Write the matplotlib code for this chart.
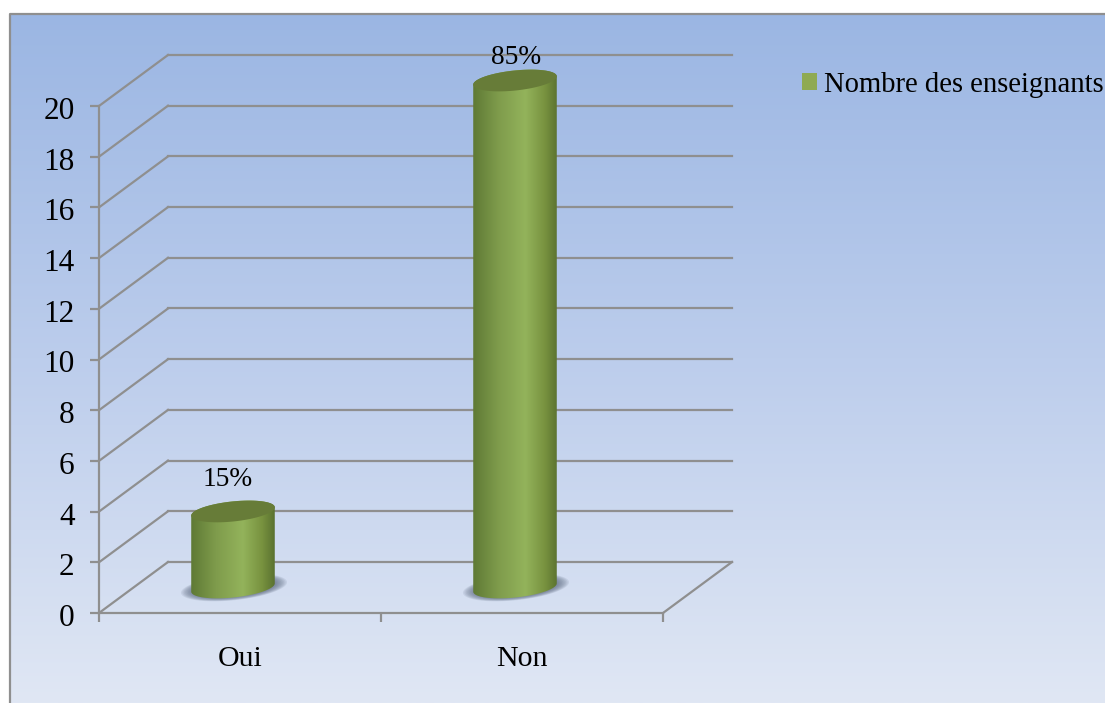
import numpy as np
import matplotlib
matplotlib.use('Agg')
import matplotlib.pyplot as plt
from matplotlib.colors import LinearSegmentedColormap
from matplotlib.patches import Patch, Polygon
from matplotlib.transforms import ScaledTranslation

plt.rcParams['font.family'] = ['Liberation Serif', 'DejaVu Serif']

# Data
categories = ['Oui', 'Non']
values = [3.0, 20.0]
value_labels = ['15%', '85%']
y_ticks = list(range(0, 21, 2))
series_name = 'Nombre des enseignants'

W, H = 1105, 703
GRAY = '#8f8f8f'
TOP_GREEN = '#677c38'
TICK_FONT = 22.5
CAT_FONT = 21.5
LABEL_FONT = 19.7
LEGEND_FONT = 20.6

# axes box in pixels: the front plane of the fake 3D chart
LEFT, RIGHT, BOTTOM, TOP = 99, 663, 613, 106
DEPTH_X, DEPTH_Y = 69, 51

fig = plt.figure(figsize=(W / 100, H / 100), dpi=100, facecolor='white')

# Background gradient and the frame of the chart area
bg = fig.add_axes([0, 0, 1, 1], zorder=0)
bg_cmap = LinearSegmentedColormap.from_list('bg', ['#9bb6e3', '#bccdec', '#e0e7f4'])
bg.imshow(np.linspace(0, 1, 256).reshape(-1, 1), cmap=bg_cmap, aspect='auto',
          extent=[11, W, H, 14])
bg.plot([10, 10, W], [H, 14, 14], color=GRAY, lw=1.6)
bg.set_xlim(0, W)
bg.set_ylim(H, 0)
bg.axis('off')

ax = fig.add_axes([LEFT / W, 1 - BOTTOM / H, (RIGHT - LEFT) / W, (BOTTOM - TOP) / H], zorder=1)
ax.patch.set_visible(False)
ax.set_xlim(0, len(categories))
ax.set_ylim(0, 20)

# pixels to data units
px_x = (RIGHT - LEFT) / len(categories)
px_y = (BOTTOM - TOP) / 20
dx = DEPTH_X / px_x
dy = DEPTH_Y / px_y

# Side wall, back wall and floor lines
for v in y_ticks:
    ax.plot([0, dx], [v, v + dy], color=GRAY, lw=1.6, clip_on=False, zorder=1)
    ax.plot([dx, len(categories) + dx], [v + dy, v + dy], color=GRAY, lw=1.6, clip_on=False, zorder=1)
ax.plot([len(categories), len(categories) + dx], [0, dy], color=GRAY, lw=1.6, clip_on=False, zorder=1)


def ellipse_xy(cx, cy, half_w, half_h, start=0.0, end=2 * np.pi, scale=1.0):
    # tilted ellipse, sizes in pixels, centre in data units
    t = np.linspace(start, end, 80)
    tilt = np.deg2rad(6)
    ex = half_w * scale * np.cos(t)
    ey = half_h * scale * np.sin(t)
    x = ex * np.cos(tilt) - ey * np.sin(tilt)
    y = ex * np.sin(tilt) + ey * np.cos(tilt)
    return np.column_stack((cx + x / px_x, cy + y / px_y))


cyl_cmap = LinearSegmentedColormap.from_list(
    'cyl', [(0, '#5f7a35'), (0.3, '#7f9c4c'), (0.62, '#93b35b'), (0.85, '#78923f'), (1, '#5a7230')])

HALF_W, HALF_H = 42, 10
for i, (val, lab) in enumerate(zip(values, value_labels)):
    cx = i + 0.5 - 7 / px_x
    cy = dy / 2

    # soft shadow on the floor
    for scale in np.linspace(1.27, 1.0, 9):
        ax.add_patch(Polygon(ellipse_xy(cx + 1 / px_x, cy, HALF_W, HALF_H, scale=scale),
                             closed=True, fc='#5b6a80', ec='none', alpha=0.12, clip_on=False, zorder=2))

    # body: lower half of base, upper part closed by the top ellipse
    base = ellipse_xy(cx, cy, HALF_W, HALF_H, np.pi, 2 * np.pi)
    top = ellipse_xy(cx, cy + val, HALF_W, HALF_H, 0, np.pi)
    body = Polygon(np.vstack((base, top)), closed=True, fc='none', ec='none',
                   transform=ax.transData, clip_on=False)
    ax.add_patch(body)
    im = ax.imshow(np.linspace(0, 1, 128).reshape(1, -1), cmap=cyl_cmap, aspect='auto',
                   extent=[cx - HALF_W / px_x, cx + HALF_W / px_x, cy - 14 / px_y, cy + val + 14 / px_y],
                   zorder=3)
    im.set_clip_path(body)
    im.set_clip_box(fig.bbox)  # top of the Non bar goes above the axes box
    ax.add_patch(Polygon(ellipse_xy(cx, cy + val, HALF_W, HALF_H), closed=True,
                         fc=TOP_GREEN, ec='none', clip_on=False, zorder=4))

    lab_dx = -5 if i == 0 else 1
    lab_dy = 32 if i == 0 else 23
    ax.annotate(lab, (cx, cy + val), xytext=(lab_dx * 0.72, lab_dy * 0.72),
                textcoords='offset points', ha='center', va='center',
                fontsize=LABEL_FONT, color='black', zorder=5, annotation_clip=False)

ax.set_xlim(0, len(categories))
ax.set_ylim(0, 20)
ax.set_aspect('auto')

# Axes
for side in ['top', 'right']:
    ax.spines[side].set_visible(False)
for side in ['left', 'bottom']:
    ax.spines[side].set_color(GRAY)
    ax.spines[side].set_linewidth(1.6)
ax.set_yticks(y_ticks)
ax.set_xticks(range(len(categories) + 1))
ax.set_xticklabels([])
ax.set_xticks(np.arange(len(categories)) + 0.5, labels=categories, minor=True)
ax.tick_params(axis='both', which='major', length=6.5, width=1.6, color=GRAY,
               labelsize=TICK_FONT, labelcolor='black')
ax.tick_params(axis='y', pad=11)
ax.tick_params(axis='x', which='minor', length=0, pad=24, labelsize=CAT_FONT, labelcolor='black')

# y labels sit a little under their ticks in the reference
shift = ScaledTranslation(0, -2 / 100, fig.dpi_scale_trans)
for t in ax.get_yticklabels():
    t.set_transform(t.get_transform() + shift)

fig.legend(handles=[Patch(fc='#8faa52', ec='none', label=series_name)],
           loc='upper left', bbox_to_anchor=(802 / W, 1 - 72 / H), frameon=False,
           fontsize=LEGEND_FONT, borderpad=0, borderaxespad=0, handlelength=0.53,
           handleheight=0.53, handletextpad=0.23)

fig.savefig('out.png', dpi=100)
